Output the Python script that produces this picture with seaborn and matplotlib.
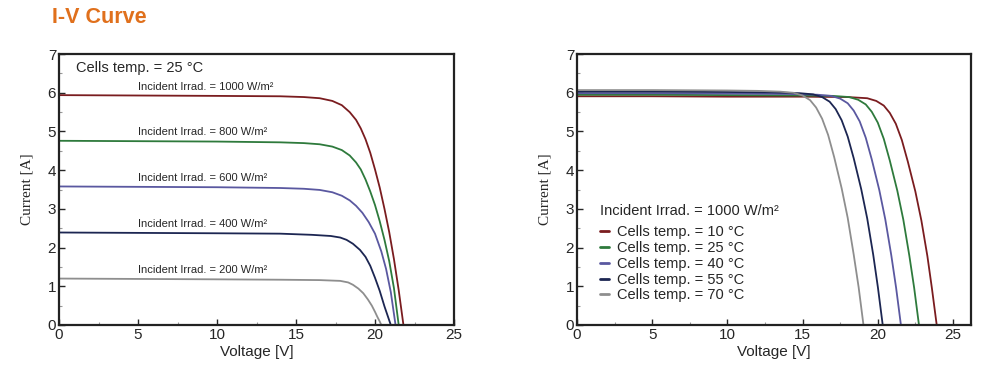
import numpy as np
import pandas as pd
import seaborn as sns
import matplotlib.pyplot as plt
from matplotlib.ticker import MultipleLocator

sns.set_style("ticks")
plt.rcParams['font.family'] = ['Liberation Sans', 'DejaVu Sans']

# left panel: irradiance curves at 25 C
irr_labels = ['1000', '800', '600', '400', '200']
v_1000 = [0, 5, 10, 14, 15.5, 16.5, 17.3, 17.9, 18.4, 18.8, 19.1, 19.4, 19.7, 20.0, 20.3, 20.6, 20.9, 21.2, 21.5, 21.8]
i_1000 = [5.94, 5.93, 5.92, 5.91, 5.89, 5.86, 5.79, 5.68, 5.50, 5.30, 5.08, 4.80, 4.45, 4.02, 3.55, 3.00, 2.40, 1.70, 0.90, 0.0]
v_800 = [0, 5, 10, 14, 15.5, 16.5, 17.3, 17.9, 18.4, 18.8, 19.1, 19.4, 19.7, 20.0, 20.3, 20.6, 20.9, 21.2, 21.5]
i_800 = [4.76, 4.75, 4.74, 4.72, 4.70, 4.67, 4.61, 4.52, 4.38, 4.20, 4.02, 3.76, 3.45, 3.10, 2.68, 2.20, 1.65, 0.95, 0.0]
v_600 = [0, 5, 10, 14, 15.5, 16.5, 17.3, 17.9, 18.4, 18.8, 19.2, 19.6, 20.0, 20.4, 20.7, 21.0, 21.3]
i_600 = [3.58, 3.57, 3.56, 3.54, 3.52, 3.49, 3.43, 3.34, 3.22, 3.08, 2.90, 2.66, 2.36, 1.90, 1.45, 0.85, 0.0]
v_400 = [0, 5, 10, 14, 16, 17.2, 17.8, 18.2, 18.6, 19.05, 19.4, 19.7, 20.0, 20.3, 20.6, 20.8, 21.0]
i_400 = [2.39, 2.38, 2.37, 2.36, 2.33, 2.30, 2.26, 2.20, 2.10, 1.94, 1.76, 1.53, 1.22, 0.88, 0.48, 0.24, 0.0]
v_200 = [0, 5, 10, 14, 16.5, 17.8, 18.3, 18.6, 18.95, 19.26, 19.55, 19.8, 20.0, 20.15, 20.3, 20.4]
i_200 = [1.20, 1.19, 1.18, 1.17, 1.16, 1.14, 1.10, 1.04, 0.94, 0.82, 0.66, 0.50, 0.34, 0.21, 0.09, 0.0]

# right panel: temperature curves at 1000 W/m2
temp_labels = ['10', '25', '40', '55', '70']
v_10 = [0, 5, 10, 15, 18, 19.3, 19.9, 20.4, 20.8, 21.2, 21.6, 22.0, 22.5, 22.9, 23.3, 23.6, 23.92]
i_10 = [5.91, 5.91, 5.90, 5.90, 5.89, 5.86, 5.79, 5.67, 5.48, 5.20, 4.78, 4.22, 3.45, 2.70, 1.78, 0.95, 0.0]
v_25 = [0, 5, 10, 15, 17.0, 18.1, 18.7, 19.2, 19.6, 20.0, 20.4, 20.8, 21.3, 21.7, 22.1, 22.42, 22.74]
i_25 = [5.95, 5.95, 5.94, 5.93, 5.92, 5.89, 5.82, 5.70, 5.51, 5.23, 4.81, 4.25, 3.47, 2.72, 1.79, 0.96, 0.0]
v_40 = [0, 5, 10, 14, 16.0, 16.9, 17.5, 18.0, 18.4, 18.8, 19.2, 19.6, 20.1, 20.5, 20.9, 21.22, 21.54]
i_40 = [5.99, 5.99, 5.98, 5.97, 5.95, 5.92, 5.85, 5.73, 5.54, 5.26, 4.84, 4.28, 3.49, 2.73, 1.80, 0.96, 0.0]
v_55 = [0, 5, 10, 13, 14.8, 15.7, 16.3, 16.8, 17.2, 17.6, 18.0, 18.4, 18.9, 19.3, 19.7, 20.01, 20.33]
i_55 = [6.03, 6.03, 6.02, 6.01, 5.99, 5.96, 5.89, 5.77, 5.58, 5.29, 4.87, 4.31, 3.51, 2.75, 1.81, 0.97, 0.0]
v_70 = [0, 5, 10, 12, 13.5, 14.4, 15.0, 15.5, 15.9, 16.3, 16.7, 17.1, 17.6, 18.0, 18.4, 18.73, 19.05]
i_70 = [6.07, 6.07, 6.06, 6.05, 6.03, 6.00, 5.93, 5.81, 5.62, 5.33, 4.91, 4.34, 3.53, 2.77, 1.82, 0.97, 0.0]

colors = ['#7a1c1f', '#2e7a3c', '#5a58a0', '#1c2652', '#8e8e8e']

left_v = [v_1000, v_800, v_600, v_400, v_200]
left_i = [i_1000, i_800, i_600, i_400, i_200]
right_v = [v_10, v_25, v_40, v_55, v_70]
right_i = [i_10, i_25, i_40, i_55, i_70]

df_l = pd.concat([pd.DataFrame({'V': v, 'I': i, 'curve': lab})
                  for v, i, lab in zip(left_v, left_i, irr_labels)], ignore_index=True)
temp_names = ['Cells temp. = %s \u00b0C' % t for t in temp_labels]
df_r = pd.concat([pd.DataFrame({'V': v, 'I': i, 'curve': lab})
                  for v, i, lab in zip(right_v, right_i, temp_names)], ignore_index=True)

fig = plt.figure(figsize=(10, 3.81), dpi=100)
ax1 = fig.add_axes([0.059, 0.147, 0.395, 0.711])
ax2 = fig.add_axes([0.577, 0.147, 0.394, 0.711])

sns.lineplot(data=df_l, x='V', y='I', hue='curve', hue_order=irr_labels,
             palette=dict(zip(irr_labels, colors)), sort=False, estimator=None,
             lw=1.3, legend=False, ax=ax1)
sns.lineplot(data=df_r, x='V', y='I', hue='curve', hue_order=temp_names,
             palette=dict(zip(temp_names, colors)), sort=False, estimator=None,
             lw=1.3, legend=True, ax=ax2)

for ax, xmax in [(ax1, 25), (ax2, 26.2)]:
    ax.set_xlim(0, xmax)
    ax.set_ylim(0, 7)
    ax.xaxis.set_major_locator(MultipleLocator(5))
    ax.xaxis.set_minor_locator(MultipleLocator(2.5))
    ax.yaxis.set_major_locator(MultipleLocator(1))
    ax.yaxis.set_minor_locator(MultipleLocator(0.5))
    ax.tick_params(which='both', direction='in', labelsize=11, pad=2)
    ax.tick_params(which='major', length=4, width=1)
    ax.tick_params(which='minor', length=2.5, width=0.8, color='#999999')
    for s in ax.spines.values():
        s.set_visible(True)
        s.set_linewidth(1.6)
        s.set_color('#222222')
    ax.set_xlabel('Voltage [V]', fontsize=11, labelpad=2)
    ax.set_ylabel('Current [A]', fontsize=11, family='Liberation Serif', labelpad=10)

# labels on left chart
ax1.text(1.1, 6.63, 'Cells temp. = 25 \u00b0C', fontsize=10.5, va='center')
for v, i, lab in zip(left_v, left_i, irr_labels):
    ax1.text(5.0, i[0] + 0.22, 'Incident Irrad. = %s W/m\u00b2' % lab, fontsize=8, va='center')

handles, labels = ax2.get_legend_handles_labels()
for h in handles:
    h.set_linewidth(2)
leg = ax2.legend(handles, labels, title='Incident Irrad. = 1000 W/m\u00b2',
                 loc='upper left', bbox_to_anchor=(0.058, 0.445), frameon=False,
                 fontsize=10.5, title_fontsize=10.5, alignment='left',
                 handlelength=0.6, handletextpad=0.6, labelspacing=0.12,
                 borderpad=0, borderaxespad=0)
leg._legend_box.sep = 5

fig.text(0.052, 0.953, 'I-V Curve', color='#e0701c', fontsize=15.5,
         fontweight='heavy', va='center', ha='left')

fig.savefig('out.png', dpi=100)
